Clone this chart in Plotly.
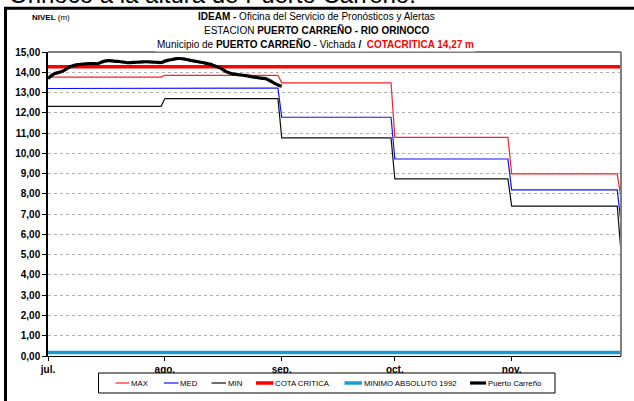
import pandas as pd
import plotly.graph_objects as go

# ---- data -------------------------------------------------------------
YEAR = 2011
months = ["07", "08", "09", "10", "11"]
month_last_day = ["31", "31", "30", "31", "29"]
month_labels = ["jul.", "ago.", "sep.", "oct.", "nov."]

# monthly historical levels (m) and the value reached on the final day
max_month = [13.76, 13.85, 13.48, 10.79, 8.99]
med_month = [13.20, 13.22, 11.78, 9.72, 8.20]
min_month = [12.32, 12.70, 10.76, 8.74, 7.40]
max_end, med_end, min_end = 7.80, 6.57, 5.15

cota_critica = 14.27
minimo_1992 = 0.17

# daily observed level, Puerto Carreño, from 1 July
obs_start = f"{YEAR}-07-01"
obs_level = [
    13.69, 13.85, 13.95, 14.00, 14.06, 14.18, 14.28, 14.34, 14.38, 14.40,
    14.42, 14.43, 14.43, 14.42, 14.48, 14.55, 14.57, 14.56, 14.54, 14.53,
    14.50, 14.47, 14.48, 14.49, 14.50, 14.51, 14.52, 14.51, 14.50, 14.49,
    14.48, 14.55, 14.60, 14.63, 14.67, 14.68, 14.66, 14.62, 14.58, 14.55,
    14.51, 14.48, 14.44, 14.40, 14.33, 14.26, 14.18, 14.06, 13.98, 13.92,
    13.89, 13.87, 13.85, 13.82, 13.78, 13.75, 13.72, 13.70, 13.67, 13.57,
    13.46, 13.37, 13.31,
]

# ---- helpers ------------------------------------------------------------
def step_series(month_vals, end_val):
    xs, ys = [], []
    for m, last, v in zip(months, month_last_day, month_vals):
        xs += [f"{YEAR}-{m}-01", f"{YEAR}-{m}-{last}"]
        ys += [v, v]
    xs.append(f"{YEAR}-11-30")
    ys.append(end_val)
    return xs, ys

x_start, x_end = f"{YEAR}-07-01", f"{YEAR}-11-30"
obs_dates = pd.date_range(obs_start, periods=len(obs_level), freq="D")

SANS = "Liberation Sans, Arial, sans-serif"

series_style = [
    # name, colour, width
    ("MAX", "#ff2020", 1.2),
    ("MED", "#1010ff", 1.2),
    ("MIN", "#101010", 1.2),
    ("COTA CRITICA", "#ff0000", 3.5),
    ("MINIMO ABSOLUTO 1992", "#1a9bd0", 3.5),
    ("Puerto Carreño", "#000000", 3.2),
]
style = {n: (c, w) for n, c, w in series_style}

fig = go.Figure()
for name, vals, end in [("MAX", max_month, max_end),
                        ("MED", med_month, med_end),
                        ("MIN", min_month, min_end)]:
    xs, ys = step_series(vals, end)
    c, w = style[name]
    fig.add_trace(go.Scatter(x=xs, y=ys, mode="lines", name=name,
                             line=dict(color=c, width=w)))

c, w = style["COTA CRITICA"]
fig.add_trace(go.Scatter(x=[x_start, x_end], y=[cota_critica] * 2, mode="lines",
                         name="COTA CRITICA", line=dict(color=c, width=w)))
c, w = style["MINIMO ABSOLUTO 1992"]
fig.add_trace(go.Scatter(x=[x_start, x_end], y=[minimo_1992] * 2, mode="lines",
                         name="MINIMO ABSOLUTO 1992", line=dict(color=c, width=w)))
c, w = style["Puerto Carreño"]
fig.add_trace(go.Scatter(x=obs_dates, y=obs_level, mode="lines", name="Puerto Carreño",
                         line=dict(color=c, width=w, shape="spline", smoothing=0.6)))

# ---- layout -------------------------------------------------------------
ML, MR, MT, MB = 48, 13, 52, 45
W, H = 634, 401
PW, PH = W - ML - MR, H - MT - MB


def px(xp):
    return (xp - ML) / PW


def py(yp):
    return (H - MB - yp) / PH


fig.update_layout(
    width=W, height=H,
    margin=dict(l=ML, r=MR, t=MT, b=MB, autoexpand=False),
    paper_bgcolor="white", plot_bgcolor="white",
    separators=",.",
    showlegend=False,
    xaxis=dict(type="date", range=[x_start, x_end],
               tickvals=[f"{YEAR}-{m}-01" for m in months], ticktext=month_labels,
               ticks="outside", ticklen=4, tickcolor="black",
               showline=True, linecolor="black", linewidth=1,
               showgrid=False, zeroline=False,
               tickfont=dict(family=SANS, size=10, color="black", weight="bold")),
    yaxis=dict(range=[0, 15], dtick=1, tick0=0, tickformat=".2f",
               ticks="outside", ticklen=4, tickcolor="black",
               showline=True, linecolor="black", linewidth=1.5,
               showgrid=True, gridcolor="#b0b0b0", griddash="dot", gridwidth=1,
               zeroline=False,
               tickfont=dict(family=SANS, size=10, color="black", weight="bold")),
)

# plot frame: top edge and right edge
fig.add_shape(type="line", xref="paper", yref="paper", x0=0, x1=1, y0=1, y1=1,
              line=dict(color="black", width=1))
fig.add_shape(type="line", xref="paper", yref="paper", x0=1, x1=1, y0=0, y1=1,
              line=dict(color="#808080", width=2))
# outer frame
fig.add_shape(type="line", xref="paper", yref="paper", x0=px(4), x1=px(640),
              y0=py(8.3), y1=py(8.3), line=dict(color="black", width=3))
fig.add_shape(type="line", xref="paper", yref="paper", x0=px(5.5), x1=px(5.5),
              y0=py(8.3), y1=py(410), line=dict(color="black", width=3))

# legend box with a key line and label for each series
LEG_TOP, LEG_BOT, LEG_MID = 373, 393, 383
fig.add_shape(type="rect", xref="paper", yref="paper",
              x0=px(98.5), x1=px(555), y0=py(LEG_BOT), y1=py(LEG_TOP),
              line=dict(color="black", width=1), fillcolor="white")
legend_x = [(115.5, 129.5), (164, 178.5), (211.5, 226), (256, 273.5), (344.5, 362), (470, 486)]
for (name, c, w), (x0, x1) in zip(series_style, legend_x):
    fig.add_shape(type="line", xref="paper", yref="paper",
                  x0=px(x0), x1=px(x1), y0=py(LEG_MID), y1=py(LEG_MID),
                  line=dict(color=c, width=w))
    fig.add_annotation(xref="paper", yref="paper", x=px(x1 + 0.5), y=py(LEG_MID),
                       xanchor="left", yanchor="middle", showarrow=False,
                       borderpad=0, text=name,
                       font=dict(family=SANS, size=7.8, color="black"))

# heading text (runs off the top edge of the page)
fig.add_annotation(xref="paper", yref="paper", x=px(7), y=py(10.5), xanchor="left",
                   yanchor="bottom", showarrow=False,
                   text="Orinoco a la altura de Puerto Carreño.",
                   font=dict(family=SANS, size=24, color="black"))
fig.add_annotation(xref="paper", yref="paper", x=px(316), y=py(16.5), xanchor="center",
                   yanchor="middle", showarrow=False,
                   text="<b>IDEAM - </b>Oficina del Servicio de Pronósticos y Alertas",
                   font=dict(family=SANS, size=10, color="black"))
fig.add_annotation(xref="paper", yref="paper", x=px(316), y=py(30), xanchor="center",
                   yanchor="middle", showarrow=False,
                   text="ESTACION <b>PUERTO CARREÑO - RIO ORINOCO</b>",
                   font=dict(family=SANS, size=10, color="black"))
fig.add_annotation(xref="paper", yref="paper", x=px(315), y=py(43.5), xanchor="center",
                   yanchor="middle", showarrow=False, bgcolor="white",
                   text="Municipio de <b>PUERTO CARREÑO</b> - Vichada <b>/</b> "
                        "<b><span style='color:#ff0000'> COTACRITICA 14,27 m</span></b>",
                   font=dict(family=SANS, size=10, color="black"))
fig.add_annotation(xref="paper", yref="paper", x=px(30), y=py(17), xanchor="left",
                   yanchor="middle", showarrow=False,
                   text="<b>NIVEL</b> (m)",
                   font=dict(family=SANS, size=8, color="black"))

fig.write_html("out.html")
